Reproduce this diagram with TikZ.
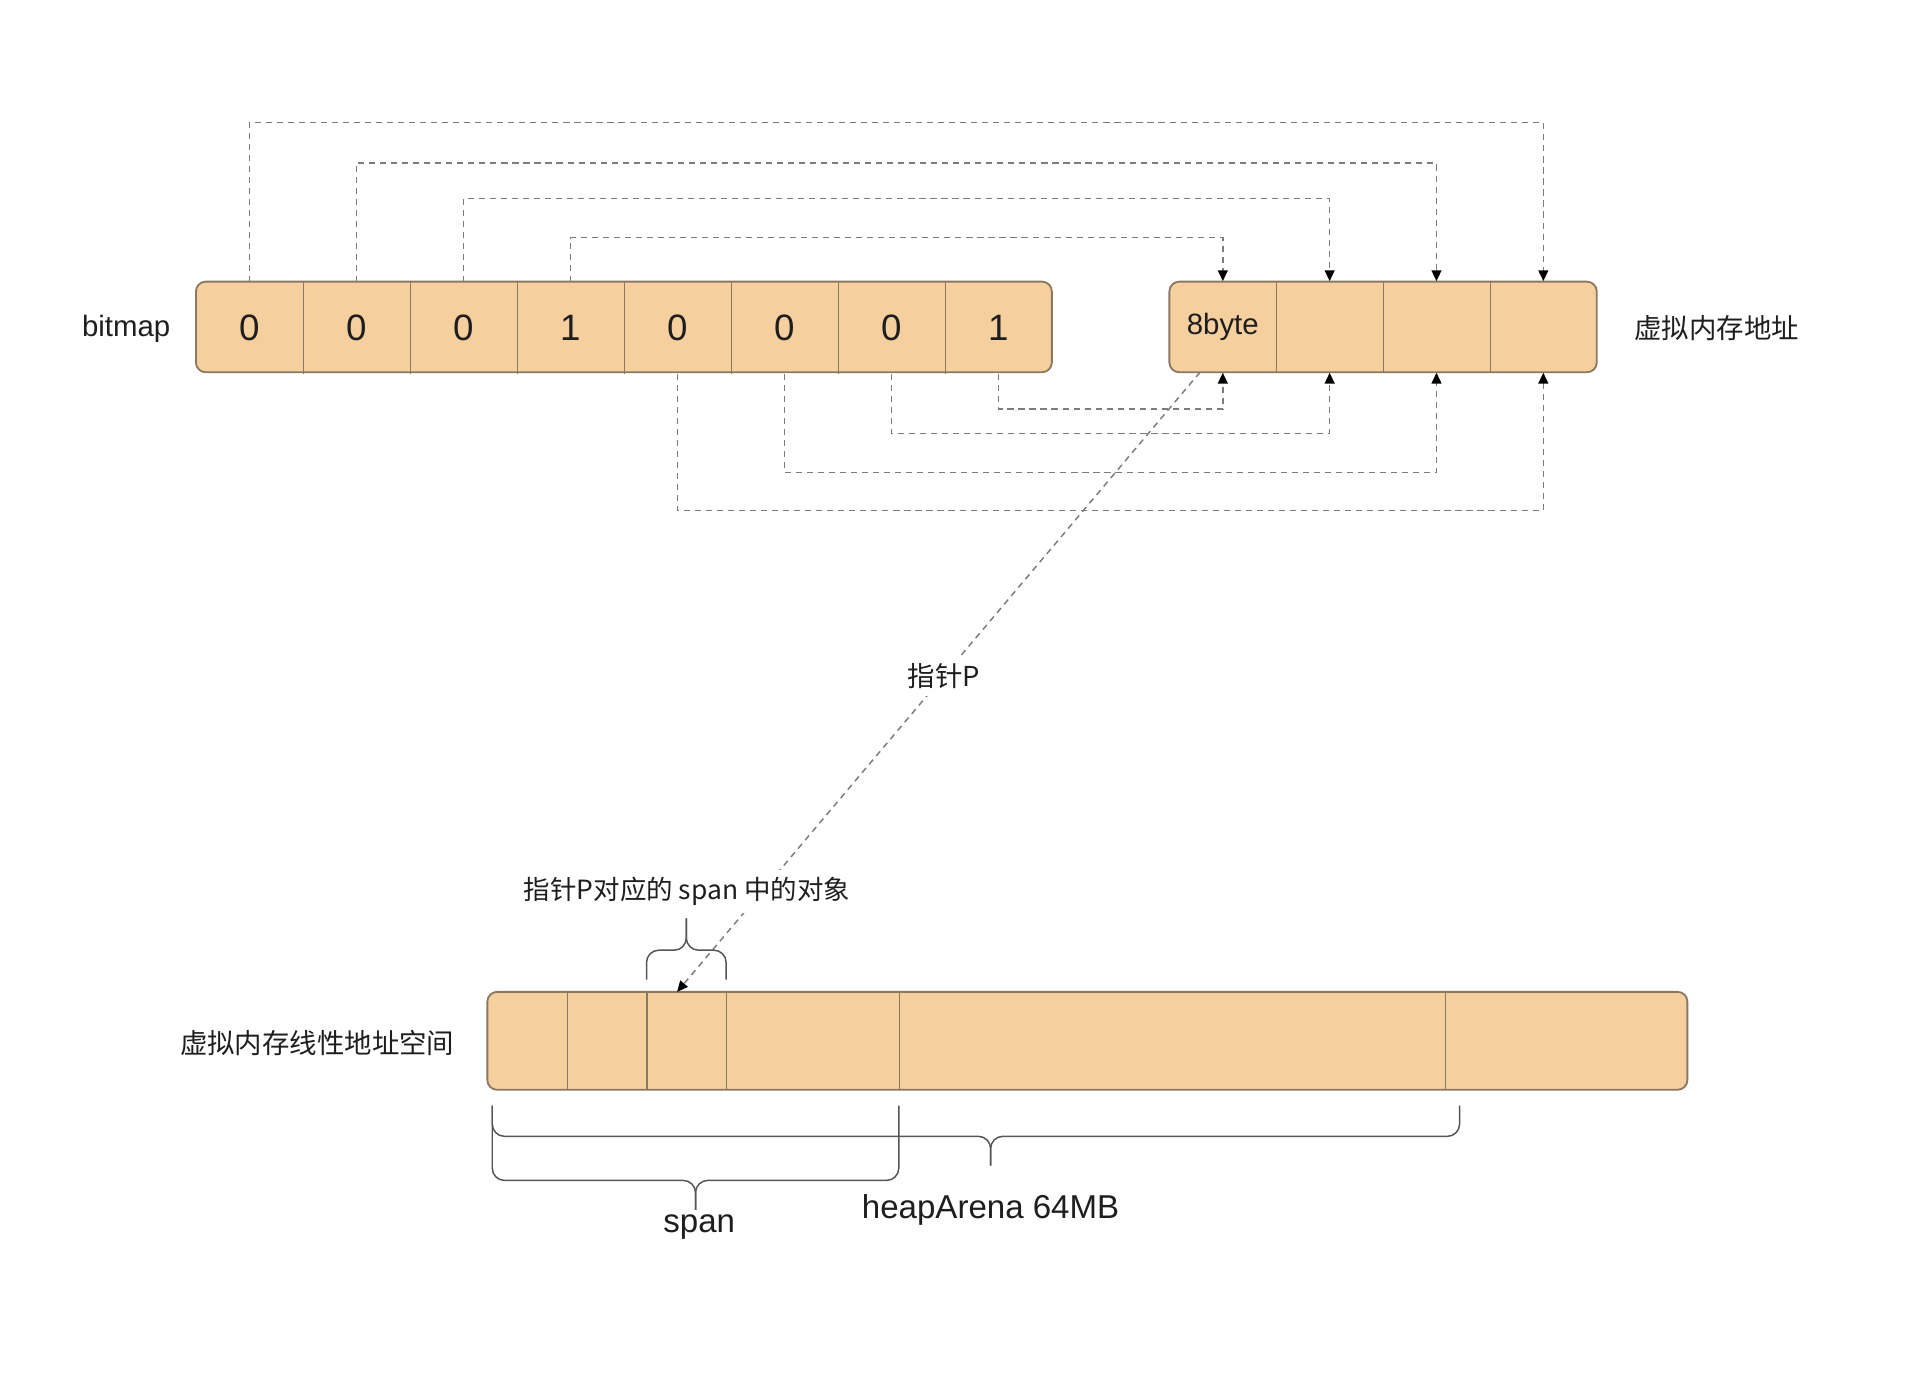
\documentclass[tikz,border=0pt]{standalone}
\usepackage{fontspec}
\setmainfont{Liberation Sans}
\newfontfamily\cjk{Noto Sans CJK SC}
\usetikzlibrary{arrows.meta,calc}
\definecolor{cellfill}{HTML}{F6CF9F}
\definecolor{celledge}{HTML}{8A7860}
\definecolor{dashgray}{HTML}{7C7C7C}
\definecolor{txt}{HTML}{1E1E1E}
\definecolor{bracegray}{HTML}{555555}
\begin{document}
\begin{tikzpicture}[x=0.5pt,y=-0.5pt,
  bar/.style={draw=celledge, fill=cellfill, line width=0.75pt, rounded corners=4pt, inner sep=0pt},
  cell/.style={inner sep=0pt, minimum height=37pt, text=txt},
  lcell/.style={inner sep=0pt, minimum height=40pt},
  divider/.style={draw=celledge, line width=0.6pt},
  link/.style={draw=dashgray, line width=0.6pt, dash pattern=on 2.5pt off 2pt,
    -{Triangle[length=4.4pt,width=4pt,color=black]}},
  brace/.style={draw=bracegray, line width=0.6pt, rounded corners=5pt},
  lbl/.style={text=txt, inner sep=1pt},
  digit/.style={font=\fontsize{15pt}{18pt}\selectfont},
]
\useasboundingbox (0,0) rectangle (1568,1124);

% ---------- bitmap ----------
\node[bar, minimum width=349.5pt, minimum height=37pt] (bmbar) at (509.5,267) {};
\foreach \i/\v in {1/0,2/0,3/0,4/1,5/0,6/0,7/0,8/1}
  \node[cell, digit, minimum width=43.69pt] (b\i) at ({160+87.375*(\i-0.5)},268) {\v};
\foreach \i in {1,...,7}
  \draw[divider] (b\i.north east) -- (b\i.south east);
\node[lbl, font=\fontsize{12pt}{14pt}\selectfont] (bmlabel) at (103,269) {bitmap};

% ---------- virtual addresses ----------
\node[bar, minimum width=174.5pt, minimum height=37pt] (vabar) at (1129.5,267) {};
\foreach \i in {1,...,4}
  \node[cell, minimum width=43.625pt] (v\i) at ({955+87.25*(\i-0.5)},267) {};
\node[lbl, font=\fontsize{12pt}{14pt}\selectfont] at (v1) {8byte};
\foreach \i in {1,...,3}
  \draw[divider] (v\i.north east) -- (v\i.south east);
\node[lbl, font=\cjk\fontsize{11.2pt}{13pt}\selectfont] (valabel) at (1402,268) {虚拟内存地址};

% ---------- links above ----------
\coordinate (h1) at (0,100);
\coordinate (h2) at (0,133);
\coordinate (h3) at (0,162);
\coordinate (h4) at (0,194);
\draw[link] (b1.north) -- (b1.north |- h1) -| (v4.north);
\draw[link] (b2.north) -- (b2.north |- h2) -| (v3.north);
\draw[link] (b3.north) -- (b3.north |- h3) -| (v2.north);
\draw[link] (b4.north) -- (b4.north |- h4) -| (v1.north);

% ---------- links below ----------
\coordinate (l1) at (0,417);
\coordinate (l2) at (0,386);
\coordinate (l3) at (0,354);
\coordinate (l4) at (0,334);
\draw[link] (b5.south) -- (b5.south |- l1) -| (v4.south);
\draw[link] (b6.south) -- (b6.south |- l2) -| (v3.south);
\draw[link] (b7.south) -- (b7.south |- l3) -| (v2.south);
\draw[link] (b8.south) -- (b8.south |- l4) -| (v1.south);

% ---------- linear address space ----------
\node[bar, minimum width=490pt, minimum height=40pt] (heap) at (888,850) {};
\node[lcell, minimum width=32.5pt] (c1) at (430.5,850) {};
\node[lcell, minimum width=32.5pt] (c2) at (495.5,850) {};
\node[lcell, minimum width=32.5pt] (c3) at (560.5,850) {};
\node[lcell, minimum width=70.5pt] (c4) at (663.5,850) {};
\node[lcell, minimum width=223pt] (c5) at (957,850) {};
\node[lcell, minimum width=99pt] (c6) at (1279,850) {};
\foreach \i in {1,...,5}
  \draw[divider] (c\i.north east) -- (c\i.south east);
\node[lbl, font=\cjk\fontsize{11.2pt}{13pt}\selectfont] (lslabel) at (259,852) {虚拟内存线性地址空间};

% ---------- pointer P ----------
\coordinate (pstart) at (980,304);
\coordinate (pend) at (553,810);
\draw[link] (pstart) -- node[pos=0.49, fill=white, lbl, inner sep=3pt, font=\cjk\fontsize{11.2pt}{13pt}\selectfont] (plabel) {指针P} (pend);

% ---------- brace above object ----------
\draw[brace] (528,800) -- (528,776) -- (560.5,776) -- (560.5,750);
\draw[brace] (593,800) -- (593,776) -- (560.5,776) -- (560.5,750);
\node[lbl, fill=white, inner sep=3pt, font=\cjk\fontsize{10.8pt}{13pt}\selectfont] (objlabel) at (561,728) {指针P对应的 span 中的对象};

% ---------- heapArena brace ----------
\draw[brace] (402,903) -- (402,928) -- (809,928) -- (809,952);
\draw[brace] (1192,903) -- (1192,928) -- (809,928) -- (809,952);
\node[lbl, font=\fontsize{13.5pt}{16pt}\selectfont] (harlabel) at (809,988) {heapArena 64MB};

% ---------- span brace ----------
\draw[brace] (402,903) -- (402,964) -- (568,964) -- (568,988);
\draw[brace] (734,903) -- (734,964) -- (568,964) -- (568,988);
\node[lbl, font=\fontsize{13.5pt}{16pt}\selectfont] (spanlabel) at (571,1002) {span};
\end{tikzpicture}
\end{document}
